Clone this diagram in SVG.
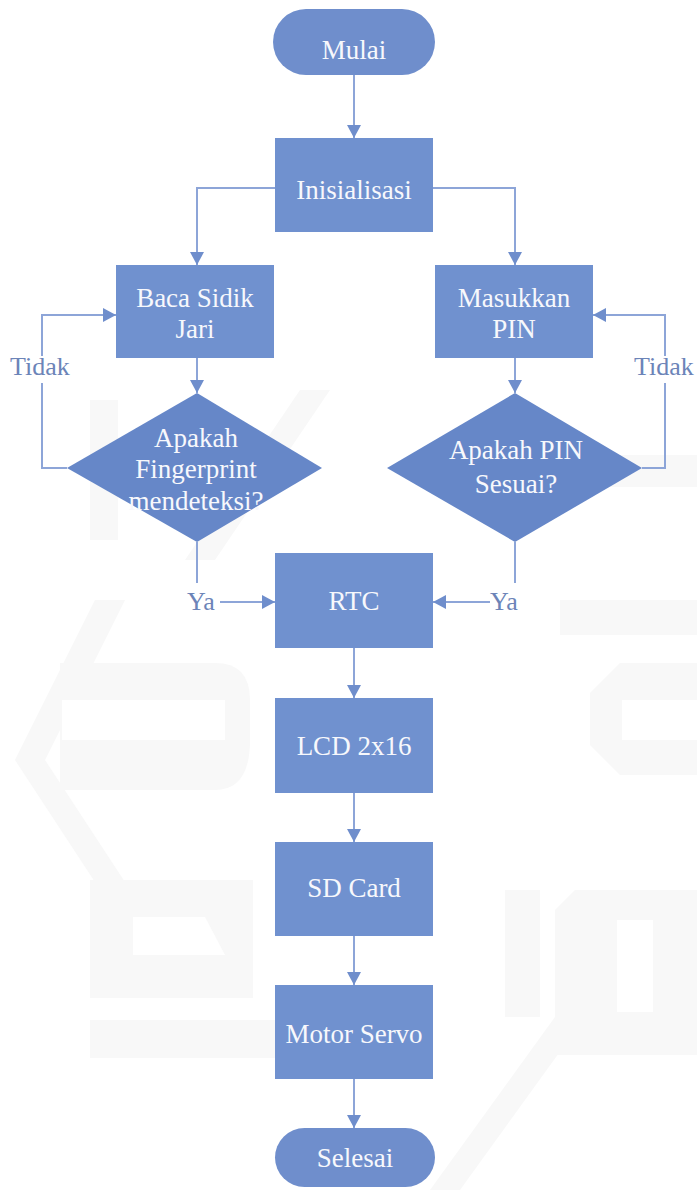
<svg xmlns="http://www.w3.org/2000/svg" width="697" height="1192" viewBox="0 0 697 1192">
  <style>
    .box { fill: #7091CF; }
    .dec { fill: #6687C8; }
    .term { fill: #6F8ECC; }
    .lbl { font-size: 27px; fill: #F7F8FC; text-anchor: middle; }
    .edge { font-size: 26px; fill: #6C84B8; }
    .wire { fill: none; stroke: #8DA5D8; stroke-width: 2; }
    .wm { fill: #F8F8F8; }
    .wmh { fill: #FFFFFF; }
  </style>
  <defs>
    <marker id="arrow" markerUnits="userSpaceOnUse" markerWidth="14" markerHeight="14" viewBox="0 0 14 14" refX="13" refY="7" orient="auto">
      <path d="M0,0 L13,7 L0,14 Z" fill="#6F8ECC"/>
    </marker>
  </defs>

  <rect width="697" height="1192" fill="#FFFFFF"/>

  <!-- faint background emblem -->
  <g id="emblem">
    <polygon class="wm" points="95,600 125,600 45,760 140,905 110,905 15,760"/>
    <path class="wm" d="M60,663 H215 Q250,663 250,700 V740 Q250,790 215,790 H60 Z"/>
    <rect class="wmh" x="62" y="700" width="163" height="40"/>
    <rect class="wm" x="90" y="880" width="163" height="118"/>
    <polygon class="wmh" points="133,917 205,917 225,955 133,955"/>
    <rect class="wm" x="90" y="1020" width="190" height="38"/>
    <rect class="wm" x="505" y="890" width="35" height="127"/>
    <polygon class="wm" points="560,1010 590,1010 460,1190 430,1190"/>
    <path class="wm" d="M575,890 H697 V1055 H555 V910 Z"/>
    <rect class="wmh" x="617" y="920" width="36" height="92"/>
    <path class="wm" d="M620,663 H697 V775 H620 L590,745 V693 Z"/>
    <rect class="wmh" x="622" y="700" width="75" height="40"/>
    <rect class="wm" x="560" y="600" width="137" height="35"/>
    <rect class="wm" x="90" y="400" width="28" height="140"/>
    <polygon class="wm" points="300,390 330,390 215,560 185,560"/>
    <rect class="wm" x="560" y="455" width="137" height="32"/>
  </g>

  <g font-family="Liberation Serif, Tinos, Times New Roman, Noto Serif, DejaVu Serif, serif">
  <!-- connectors -->
  <g id="connectors">
    <line class="wire" x1="354" y1="75" x2="354" y2="138" marker-end="url(#arrow)"/>
    <polyline class="wire" points="275,188 197,188 197,265" marker-end="url(#arrow)"/>
    <polyline class="wire" points="433,188 515,188 515,265" marker-end="url(#arrow)"/>
    <line class="wire" x1="197" y1="358" x2="197" y2="393" marker-end="url(#arrow)"/>
    <line class="wire" x1="515" y1="358" x2="515" y2="393" marker-end="url(#arrow)"/>
    <!-- "Tidak" loop, left -->
    <polyline class="wire" points="67,468 42,468 42,383"/>
    <polyline class="wire" points="42,356 42,315 116,315" marker-end="url(#arrow)"/>
    <!-- "Tidak" loop, right -->
    <polyline class="wire" points="642,468 665,468 665,383"/>
    <polyline class="wire" points="665,356 665,315 593,315" marker-end="url(#arrow)"/>
    <!-- "Ya" branches into RTC -->
    <line class="wire" x1="197" y1="542" x2="197" y2="583"/>
    <line class="wire" x1="220" y1="602" x2="275" y2="602" marker-end="url(#arrow)"/>
    <line class="wire" x1="515" y1="542" x2="515" y2="583"/>
    <line class="wire" x1="490" y1="602" x2="433" y2="602" marker-end="url(#arrow)"/>
    <line class="wire" x1="354" y1="648" x2="354" y2="698" marker-end="url(#arrow)"/>
    <line class="wire" x1="354" y1="793" x2="354" y2="842" marker-end="url(#arrow)"/>
    <line class="wire" x1="354" y1="936" x2="354" y2="985" marker-end="url(#arrow)"/>
    <line class="wire" x1="354" y1="1079" x2="354" y2="1128" marker-end="url(#arrow)"/>
    <text class="edge" x="10" y="375">Tidak</text>
    <text class="edge" x="634" y="375">Tidak</text>
    <text class="edge" x="187" y="610">Ya</text>
    <text class="edge" x="490" y="610">Ya</text>
  </g>

  <g id="mulai">
    <rect class="term" x="273" y="9" width="162" height="66" rx="33"/>
    <text class="lbl" x="354" y="59">Mulai</text>
  </g>
  <g id="inisialisasi">
    <rect class="box" x="275" y="138" width="158" height="94"/>
    <text class="lbl" x="354" y="199">Inisialisasi</text>
  </g>
  <g id="baca-sidik-jari">
    <rect class="box" x="116" y="265" width="158" height="93"/>
    <text class="lbl" x="195" y="307">Baca Sidik</text>
    <text class="lbl" x="195" y="338">Jari</text>
  </g>
  <g id="masukkan-pin">
    <rect class="box" x="435" y="265" width="158" height="93"/>
    <text class="lbl" x="514" y="307">Masukkan</text>
    <text class="lbl" x="514" y="338">PIN</text>
  </g>
  <g id="cek-fingerprint">
    <polygon class="dec" points="197,393 322,468 197,542 67,468"/>
    <text class="lbl" x="196" y="447">Apakah</text>
    <text class="lbl" x="196" y="478">Fingerprint</text>
    <text class="lbl" x="196" y="510">mendeteksi?</text>
  </g>
  <g id="cek-pin">
    <polygon class="dec" points="515,393 642,468 515,542 387,468"/>
    <text class="lbl" x="516" y="459">Apakah PIN</text>
    <text class="lbl" x="516" y="493">Sesuai?</text>
  </g>
  <g id="rtc">
    <rect class="box" x="275" y="553" width="158" height="95"/>
    <text class="lbl" x="354" y="610">RTC</text>
  </g>
  <g id="lcd">
    <rect class="box" x="275" y="698" width="158" height="95"/>
    <text class="lbl" x="354" y="755">LCD 2x16</text>
  </g>
  <g id="sd-card">
    <rect class="box" x="275" y="842" width="158" height="94"/>
    <text class="lbl" x="354" y="897">SD Card</text>
  </g>
  <g id="motor-servo">
    <rect class="box" x="275" y="985" width="158" height="94"/>
    <text class="lbl" x="354" y="1043">Motor Servo</text>
  </g>
  <g id="selesai">
    <rect class="term" x="275" y="1128" width="160" height="59" rx="29.5"/>
    <text class="lbl" x="355" y="1167">Selesai</text>
  </g>
  </g>
</svg>
